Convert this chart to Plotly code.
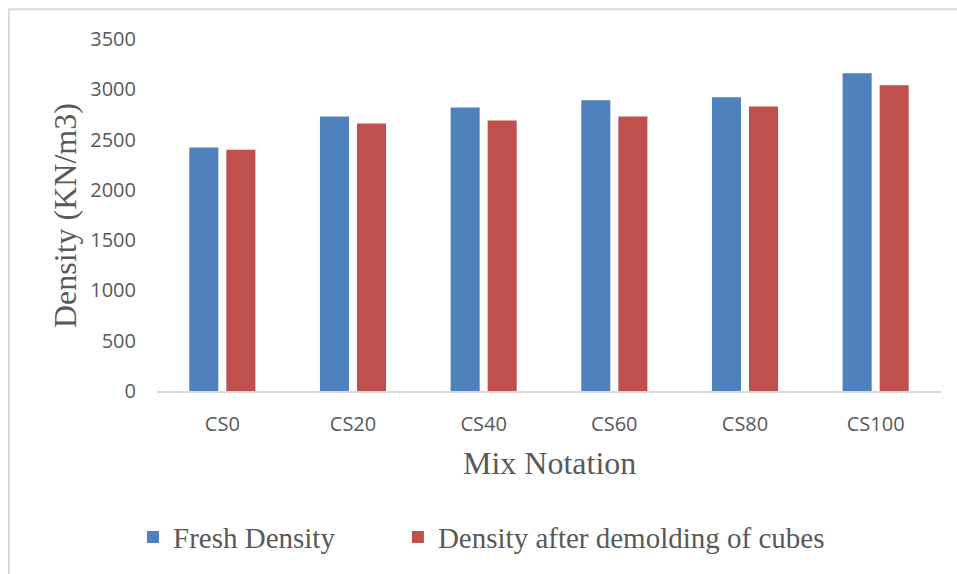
import plotly.graph_objects as go

# Mix notations and measured densities
mixes = ["CS0", "CS20", "CS40", "CS60", "CS80", "CS100"]
fresh_density = [2420, 2730, 2820, 2890, 2920, 3160]
demolded_density = [2400, 2660, 2690, 2730, 2830, 3040]
y_ticks = [0, 500, 1000, 1500, 2000, 2500, 3000, 3500]

W, H = 957, 574
L, R, T, B = 157, 16, 39, 181
plot_w = W - L - R
plot_h = H - T - B

def px_to_paper_x(px):
    return (px - L) / plot_w

def px_to_paper_y(py):
    return (H - B - py) / plot_h

text_color = "#595959"
serif = "Liberation Serif, Times New Roman, serif"
sans = "Open Sans, Noto Sans, sans-serif"

# non-breaking spaces widen the gap between the two legend entries
legend_pad = "\u00a0" * 8

fig = go.Figure()
fig.add_trace(go.Bar(
    x=mixes, y=fresh_density, name="Fresh Density" + legend_pad,
    marker=dict(color="#4F81BD", line=dict(width=0)),
))
fig.add_trace(go.Bar(
    x=mixes, y=demolded_density, name="Density after demolding of cubes",
    marker=dict(color="#C0504D", line=dict(width=0)),
))

fig.update_layout(
    width=W, height=H,
    margin=dict(l=L, r=R, t=T, b=B),
    paper_bgcolor="white", plot_bgcolor="white",
    barmode="group", bargap=0.433, bargroupgap=0.216,
    showlegend=True,
    legend=dict(
        orientation="h", x=px_to_paper_x(133), xanchor="left",
        y=px_to_paper_y(540), yanchor="middle",
        font=dict(family=serif, size=29, color=text_color),
        itemwidth=30, tracegroupgap=0, bgcolor="rgba(0,0,0,0)",
    ),
    xaxis=dict(
        showgrid=False, showline=True, linecolor="#d9d9d9", linewidth=2,
        ticks="", tickfont=dict(family=sans, size=20, color=text_color),
        ticklabelstandoff=14, zeroline=False,
    ),
    yaxis=dict(
        range=[0, 3500], tickvals=y_ticks, showgrid=False, showline=False,
        zeroline=False, ticks="",
        tickfont=dict(family=sans, size=20, color=text_color),
        ticklabelstandoff=20,
    ),
    annotations=[
        dict(text="Density (KN/m3)", textangle=-90, xref="paper", yref="paper",
             x=px_to_paper_x(65), y=px_to_paper_y(217), xanchor="center",
             yanchor="middle", showarrow=False,
             font=dict(family=serif, size=32, color=text_color)),
        dict(text="Mix Notation", xref="paper", yref="paper",
             x=px_to_paper_x(549), y=px_to_paper_y(465), xanchor="center",
             yanchor="middle", showarrow=False,
             font=dict(family=serif, size=32, color=text_color)),
    ],
    shapes=[
        dict(type="rect", xref="paper", yref="paper",
             x0=px_to_paper_x(9), x1=px_to_paper_x(W + 20),
             y0=px_to_paper_y(H + 20), y1=px_to_paper_y(9),
             line=dict(color="#d9d9d9", width=2), layer="below"),
    ],
)

fig.write_html("out.html")
